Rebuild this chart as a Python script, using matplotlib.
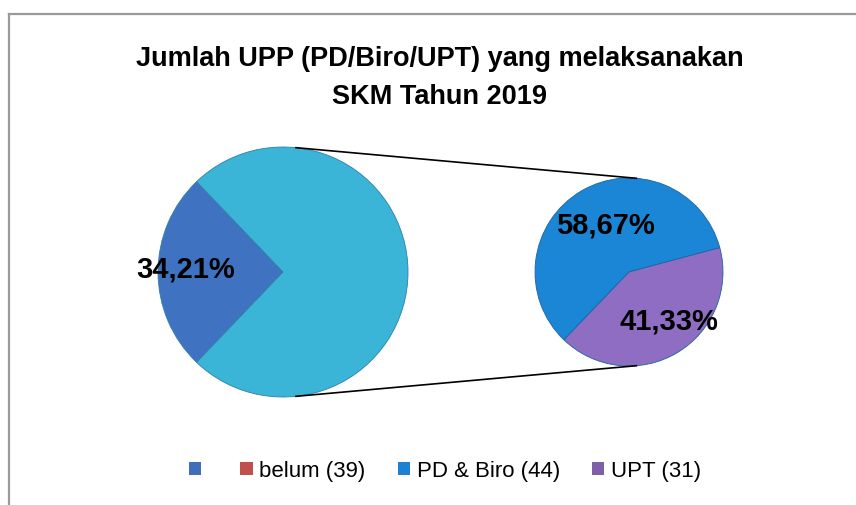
"""Pie-of-pie: Jumlah UPP yang melaksanakan SKM Tahun 2019"""
import numpy as np
import matplotlib
matplotlib.use('Agg')
import matplotlib.pyplot as plt
from matplotlib.patches import Patch
from matplotlib.lines import Line2D

# data
legend_labels = ['', 'belum (39)', 'PD & Biro (44)', 'UPT (31)']
main_shares = [25.7, 74.3]          # visible share of the main pie (blue slice, "other")
main_labels = ['34,21%', '']
sub_values = [44, 31]               # PD & Biro, UPT
sub_labels = ['58,67%', '41,33%']

blue_dark = '#3F73C2'
cyan = '#3AB4D7'
pd_blue = '#1C86D6'
purple = '#8F6DC2'
legend_colors = ['#3F6FB8', '#C0504D', '#1F80CF', '#7F5FA8']

W, H = 856, 505
plt.rcParams['font.family'] = ['Liberation Sans', 'DejaVu Sans']

fig = plt.figure(figsize=(W / 100, H / 100), dpi=100)
ax = fig.add_axes([0, 0, 1, 1])

# chart frame (only top and left visible)
ax.add_line(Line2D([9, W], [H - 14, H - 14], color='#9a9a9a', lw=1.6))
ax.add_line(Line2D([9, 9], [0, H - 14], color='#9a9a9a', lw=1.6))

ax.text(W / 2 + 12, H - 78, 'Jumlah UPP (PD/Biro/UPT) yang melaksanakan\nSKM Tahun 2019',
        ha='center', va='center', fontsize=19.5, fontweight='bold', linespacing=1.55)

# main pie
c1, r1 = (283, H - 272), 125
span = main_shares[0] / sum(main_shares) * 360
ax.pie(main_shares, colors=[blue_dark, cyan], center=c1, radius=r1,
       startangle=180 - span / 2, counterclock=True,
       wedgeprops=dict(edgecolor='#2f7fa5', linewidth=0.6), frame=True)
ax.text(c1[0] - 97, c1[1] + 2, main_labels[0], ha='center', va='center',
        fontsize=21, fontweight='bold')

# secondary pie
c2, r2 = (629, H - 272), 94
ax.pie(sub_values, colors=[pd_blue, purple], center=c2, radius=r2,
       startangle=15, counterclock=True,
       wedgeprops=dict(edgecolor='#1a64a0', linewidth=0.6), frame=True)
ax.set_xlim(0, W)
ax.set_ylim(0, H)
ax.set_aspect('equal')
ax.axis('off')
ax.text(c2[0] - 24, c2[1] + 46, sub_labels[0], ha='center', va='center',
        fontsize=21, fontweight='bold')
ax.text(c2[0] + 40, c2[1] - 49, sub_labels[1], ha='center', va='center',
        fontsize=21, fontweight='bold')

# connector lines
for a1, a2 in [(84, 85.5), (-84, -85.5)]:
    p1 = (c1[0] + r1 * np.cos(np.radians(a1)), c1[1] + r1 * np.sin(np.radians(a1)))
    p2 = (c2[0] + r2 * np.cos(np.radians(a2)), c2[1] + r2 * np.sin(np.radians(a2)))
    ax.add_line(Line2D([p1[0], p2[0]], [p1[1], p2[1]], color='black', lw=1.2))

handles = [Patch(facecolor=c, edgecolor='none') for c in legend_colors]
fig.legend(handles, legend_labels, loc='center', bbox_to_anchor=(0.520, 1 - 471 / H),
           ncol=4, frameon=False, fontsize=16, handlelength=0.55, handleheight=0.55,
           handletextpad=0.3, columnspacing=1.45)

fig.savefig('out.png', dpi=100)
